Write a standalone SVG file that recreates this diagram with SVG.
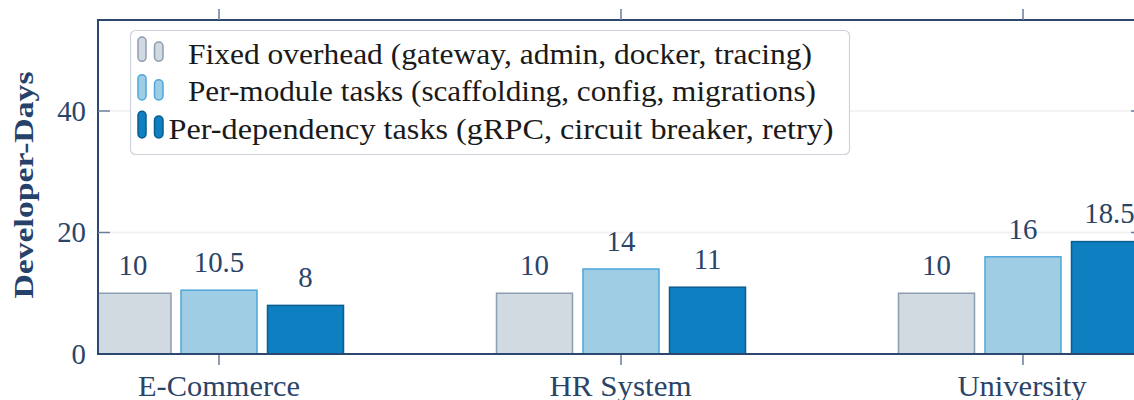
<svg xmlns="http://www.w3.org/2000/svg" width="1134" height="400" viewBox="0 0 1134 400">
  <defs>
    <style>
      text { fill: #2a4468; }
      .val { font-size: 28.8px; text-anchor: middle; }
      .tick { font-size: 28.8px; text-anchor: end; }
      .cat { font-size: 28.8px; text-anchor: middle; }
      .leg { font-size: 28.8px; fill: #1a1a1a; }
      .title { font-size: 27px; font-weight: bold; text-anchor: middle; fill: #26416a; }
      .fixed { fill: #d1d9e1; stroke: #8d9db2; stroke-width: 1.5; }
      .module { fill: #9fcde4; stroke: #4ea7da; stroke-width: 1.5; }
      .dep { fill: #0e7fc0; stroke: #0b5d8e; stroke-width: 1.5; }
      .grid { stroke: #f0f0f0; stroke-width: 1.5; }
      .axis { stroke: #2c4770; stroke-width: 2; fill: none; }
      .tk { stroke: #6a7d9b; stroke-width: 1.5; }
    </style>
    <clipPath id="plot">
      <rect x="98" y="20" width="1040" height="334"/>
    </clipPath>
  </defs>

  <rect width="1134" height="400" fill="#ffffff"/>

  <!-- horizontal gridlines at 20 and 40 -->
  <g id="gridlines">
    <line class="grid" x1="110" y1="232.5" x2="1134" y2="232.5"/>
    <line class="grid" x1="110" y1="111" x2="1134" y2="111"/>
  </g>

  <!-- bars: fixed overhead / per-module / per-dependency -->
  <g id="bars" clip-path="url(#plot)">
    <g id="ecommerce">
      <rect class="fixed" x="95" y="293.25" width="76" height="60.75"/>
      <rect class="module" x="181" y="290.2" width="76" height="63.8"/>
      <rect class="dep" x="267.5" y="305.4" width="76" height="48.6"/>
    </g>
    <g id="hr-system">
      <rect class="fixed" x="496.5" y="293.25" width="76" height="60.75"/>
      <rect class="module" x="583" y="269" width="76" height="85"/>
      <rect class="dep" x="669.5" y="287.2" width="76" height="66.8"/>
    </g>
    <g id="university">
      <rect class="fixed" x="898.5" y="293.25" width="76" height="60.75"/>
      <rect class="module" x="985" y="256.8" width="76" height="97.2"/>
      <rect class="dep" x="1071.5" y="241.6" width="76" height="112.4"/>
    </g>
  </g>

  <g font-family="'Liberation Serif', 'Times New Roman', serif">
    <!-- value labels -->
    <g id="values">
      <text class="val" x="133" y="275">10</text>
      <text class="val" x="219" y="272">10.5</text>
      <text class="val" x="305.5" y="287.2">8</text>
      <text class="val" x="534.5" y="275">10</text>
      <text class="val" x="621" y="250.7">14</text>
      <text class="val" x="707.5" y="269">11</text>
      <text class="val" x="936.5" y="275">10</text>
      <text class="val" x="1023" y="238.5">16</text>
      <text class="val" x="1109.5" y="223.3">18.5</text>
    </g>

    <g id="y-labels">
      <text class="tick" x="86" y="121">40</text>
      <text class="tick" x="86" y="241.8">20</text>
      <text class="tick" x="86" y="363.5">0</text>
      <text class="title" transform="translate(33 185) rotate(-90)" textLength="227" lengthAdjust="spacingAndGlyphs">Developer-Days</text>
    </g>

    <g id="x-labels">
      <text class="cat" x="219" y="396" textLength="162" lengthAdjust="spacingAndGlyphs">E-Commerce</text>
      <text class="cat" x="620.5" y="396" textLength="142" lengthAdjust="spacingAndGlyphs">HR System</text>
      <text class="cat" x="1022" y="396" textLength="129" lengthAdjust="spacingAndGlyphs">University</text>
    </g>
  </g>

  <!-- axes and ticks -->
  <g id="axes">
    <line class="axis" x1="98" y1="20" x2="1134" y2="20"/>
    <line class="axis" x1="98" y1="19" x2="98" y2="355"/>
    <line class="axis" x1="98" y1="354" x2="1134" y2="354"/>
    <line class="tk" x1="98" y1="232.5" x2="110" y2="232.5"/>
    <line class="tk" x1="98" y1="111" x2="110" y2="111"/>
    <line class="tk" x1="1131" y1="232.5" x2="1134" y2="232.5"/>
    <line class="tk" x1="1131" y1="111" x2="1134" y2="111"/>
    <line class="tk" x1="219" y1="9" x2="219" y2="20"/>
    <line class="tk" x1="621" y1="9" x2="621" y2="20"/>
    <line class="tk" x1="1023" y1="9" x2="1023" y2="20"/>
    <line class="tk" x1="219" y1="355" x2="219" y2="365"/>
    <line class="tk" x1="621" y1="355" x2="621" y2="365"/>
    <line class="tk" x1="1023" y1="355" x2="1023" y2="365"/>
  </g>

  <!-- legend -->
  <g id="legend" font-family="'Liberation Serif', 'Times New Roman', serif">
    <rect x="130.5" y="30.5" width="719" height="124" rx="5" fill="#ffffff" stroke="#cdd3db" stroke-width="1.2"/>
    <rect class="fixed" x="138" y="37" width="8" height="24.3" rx="4"/>
    <rect class="fixed" x="154.5" y="42" width="8.5" height="19.3" rx="4.2"/>
    <rect class="module" x="138" y="74.7" width="8" height="25.3" rx="4"/>
    <rect class="module" x="154.5" y="79.7" width="8.5" height="20.3" rx="4.2"/>
    <rect class="dep" x="138" y="111.3" width="8" height="26.7" rx="4"/>
    <rect class="dep" x="154.5" y="116" width="8.5" height="22" rx="4.2"/>
    <text class="leg" x="188" y="64" textLength="624" lengthAdjust="spacingAndGlyphs">Fixed overhead (gateway, admin, docker, tracing)</text>
    <text class="leg" x="188" y="101" textLength="628" lengthAdjust="spacingAndGlyphs">Per-module tasks (scaffolding, config, migrations)</text>
    <text class="leg" x="168.5" y="138.5" textLength="665" lengthAdjust="spacingAndGlyphs">Per-dependency tasks (gRPC, circuit breaker, retry)</text>
  </g>
</svg>
